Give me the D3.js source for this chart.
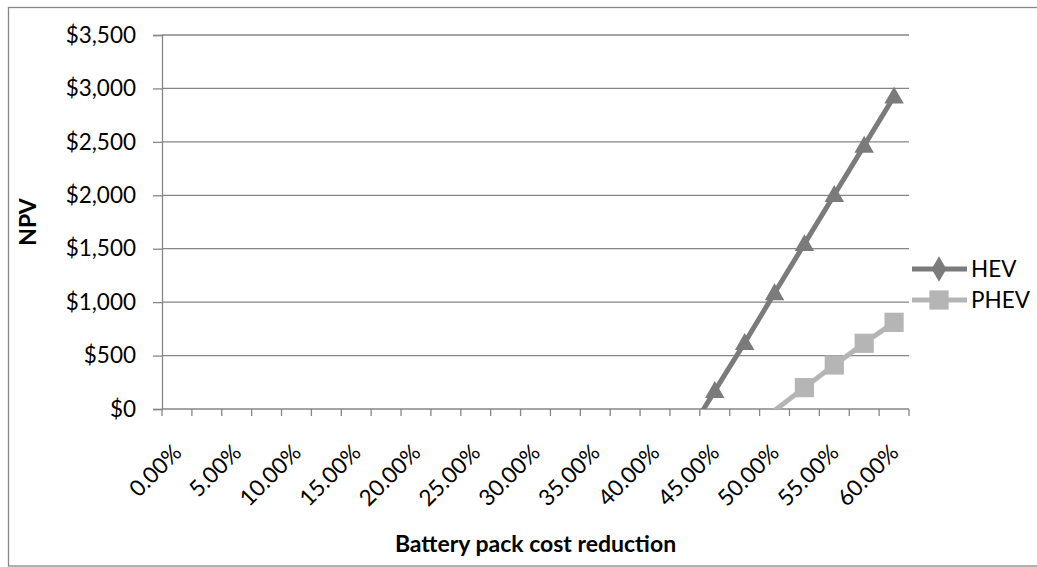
<!DOCTYPE html>
<html>
<head>
<meta charset="utf-8">
<script src="https://cdn.jsdelivr.net/npm/d3@7"></script>
<style>
  html, body { margin: 0; padding: 0; background: #fff; }
  svg { display: block; }
  text { font-family: Lato, "Open Sans", "DejaVu Sans", sans-serif; fill: #000; }
</style>
</head>
<body>
<svg id="chart" width="1037" height="567"></svg>
<script>
// Battery pack cost reduction steps (category axis)
const categories = ["0.00%", "2.50%", "5.00%", "7.50%", "10.00%", "12.50%", "15.00%", "17.50%",
  "20.00%", "22.50%", "25.00%", "27.50%", "30.00%", "32.50%", "35.00%", "37.50%", "40.00%",
  "42.50%", "45.00%", "47.50%", "50.00%", "52.50%", "55.00%", "57.50%", "60.00%"];

// Only every other category carries a label
const tickLabels = ["0.00%", "5.00%", "10.00%", "15.00%", "20.00%", "25.00%", "30.00%",
  "35.00%", "40.00%", "45.00%", "50.00%", "55.00%", "60.00%"];

// NPV in dollars; null where the value lies below the axis minimum
const hevValues = [null, null, null, null, null, null, null, null, null, null, null, null,
  null, null, null, null, null, -290, 170, 620, 1085, 1545, 2005, 2465, 2925];
const phevValues = [null, null, null, null, null, null, null, null, null, null, null, null,
  null, null, null, null, null, null, null, null, -15, 200, 412, 615, 811];

const yTicks = [0, 500, 1000, 1500, 2000, 2500, 3000, 3500];

const series = [
  { name: "HEV", values: hevValues, color: "#7b7b7b", marker: "triangle", legendMarker: "diamond" },
  { name: "PHEV", values: phevValues, color: "#b5b5b5", marker: "square", legendMarker: "square" }
];

const svg = d3.select("#chart");
const plot = { left: 162, right: 909, top: 35, bottom: 409 };
const axisColor = "#868686";
const labelSize = "22.5px";

// outer chart frame
svg.append("rect")
  .attr("x", 8.5).attr("y", 7.5)
  .attr("width", 1040).attr("height", 558.5)
  .attr("fill", "none").attr("stroke", "#888").attr("stroke-width", 1.3);

const x = d3.scaleBand().domain(categories).range([plot.left, plot.right]).padding(0);
const y = d3.scaleLinear().domain([0, 3500]).range([plot.bottom, plot.top]);

// horizontal gridlines
svg.append("g").selectAll("line")
  .data(yTicks.filter(v => v > 0))
  .join("line")
  .attr("x1", plot.left).attr("x2", plot.right)
  .attr("y1", d => y(d)).attr("y2", d => y(d))
  .attr("stroke", axisColor).attr("stroke-width", 1.3);

// y axis
const yAxis = d3.axisLeft(y)
  .tickValues(yTicks)
  .tickSize(9)
  .tickPadding(17)
  .tickFormat(d => "$" + d3.format(",")(d));
const gy = svg.append("g").attr("transform", `translate(${plot.left},0)`).call(yAxis);
gy.select(".domain").attr("stroke", axisColor).attr("stroke-width", 1.3);
gy.selectAll(".tick line").attr("stroke", axisColor).attr("stroke-width", 1.3);
gy.selectAll(".tick text")
  .style("font-size", labelSize)
  .style("font-family", "Lato, 'Open Sans', sans-serif")
  .attr("fill", "#000");

// x axis: baseline and tick marks on category boundaries
const boundaries = categories.map(c => x(c)).concat([x(categories[categories.length - 1]) + x.bandwidth()]);
const gx = svg.append("g");
gx.append("line")
  .attr("x1", plot.left).attr("x2", plot.right)
  .attr("y1", plot.bottom).attr("y2", plot.bottom)
  .attr("stroke", axisColor).attr("stroke-width", 1.3);
gx.selectAll("line.tick")
  .data(boundaries)
  .join("line")
  .attr("class", "tick")
  .attr("x1", d => d).attr("x2", d => d)
  .attr("y1", plot.bottom).attr("y2", plot.bottom + 7)
  .attr("stroke", axisColor).attr("stroke-width", 1.3);

// rotated category labels
gx.selectAll("text")
  .data(tickLabels)
  .join("text")
  .attr("text-anchor", "end")
  .attr("transform", d => `translate(${x(d) + x.bandwidth() / 2 + 6},${plot.bottom + 45}) rotate(-45)`)
  .style("font-size", labelSize)
  .text(d => d);

// axis titles
svg.append("text")
  .attr("transform", `translate(36,${(plot.top + plot.bottom) / 2}) rotate(-90)`)
  .attr("text-anchor", "middle")
  .style("font-size", "23px").style("font-weight", "bold")
  .text("NPV");
svg.append("text")
  .attr("x", (plot.left + plot.right) / 2).attr("y", 552)
  .attr("text-anchor", "middle")
  .style("font-size", "23px").style("font-weight", "bold")
  .text("Battery pack cost reduction");

// clip lines to the plot area
svg.append("clipPath").attr("id", "plot-clip")
  .append("rect")
  .attr("x", plot.left).attr("y", plot.top - 20)
  .attr("width", plot.right - plot.left + 20).attr("height", plot.bottom - plot.top + 20);

const symbolFor = {
  triangle: d3.symbol().type(d3.symbolTriangle).size(165),
  square: d3.symbol().type(d3.symbolSquare).size(370),
  diamond: d3.symbol().type(d3.symbolDiamond).size(190)
};

const cx = i => x(categories[i]) + x.bandwidth() / 2;

series.forEach(s => {
  const pts = s.values.map((v, i) => ({ i, v })).filter(p => p.v !== null);
  const line = d3.line().x(p => cx(p.i)).y(p => y(p.v));
  svg.append("path")
    .datum(pts)
    .attr("clip-path", "url(#plot-clip)")
    .attr("d", line)
    .attr("fill", "none")
    .attr("stroke", s.color)
    .attr("stroke-width", 5)
    .attr("stroke-linejoin", "round");
  // markers only for values inside the axis range
  svg.append("g").selectAll("path")
    .data(pts.filter(p => p.v >= 0))
    .join("path")
    .attr("transform", p => {
      const dy = s.marker === "triangle" ? 1.5 : 0;
      return `translate(${cx(p.i)},${y(p.v) + dy})`;
    })
    .attr("d", symbolFor[s.marker])
    .attr("fill", s.color);
});

// legend
const legend = svg.append("g");
series.forEach((s, k) => {
  const ly = 269 + k * 31;
  legend.append("line")
    .attr("x1", 912).attr("x2", 967)
    .attr("y1", ly).attr("y2", ly)
    .attr("stroke", s.color).attr("stroke-width", 5);
  legend.append("path")
    .attr("transform", `translate(939,${ly})`)
    .attr("d", symbolFor[s.legendMarker])
    .attr("fill", s.color);
  legend.append("text")
    .attr("x", 971).attr("y", ly)
    .attr("dy", "0.35em")
    .style("font-size", labelSize)
    .text(s.name);
});
</script>
</body>
</html>
